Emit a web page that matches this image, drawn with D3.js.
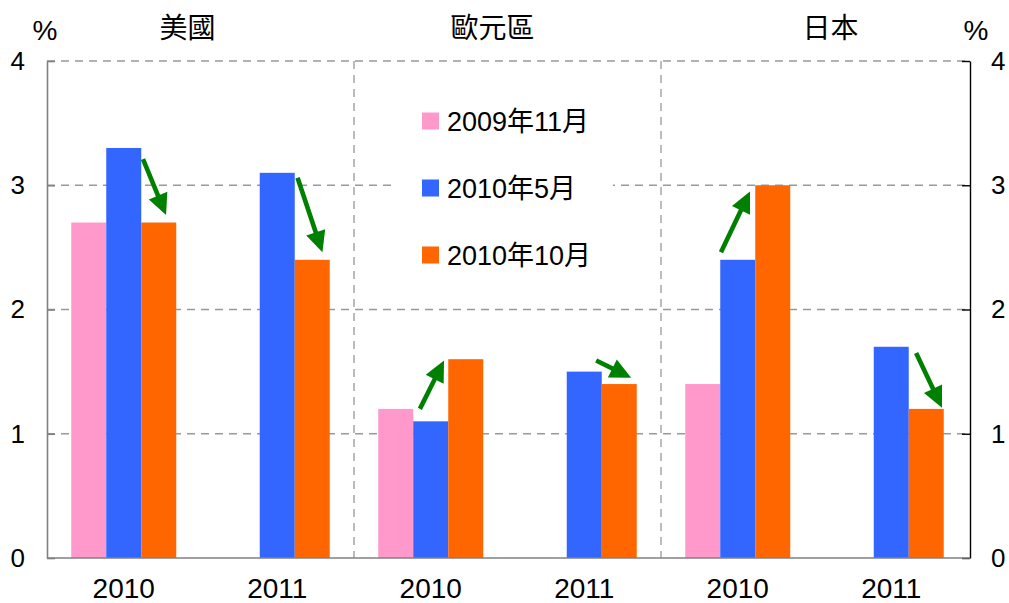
<!doctype html>
<html lang="zh-Hant">
  <head>
    <meta charset="utf-8">
    <title>Growth forecasts</title>
    <script src="https://d3js.org/d3.v7.min.js"></script>
    <style>
      body { margin: 0; background: #fff; }
      text { font-family: "Liberation Sans", Arial, "Noto Sans CJK TC", sans-serif; fill: #000; }
      .cjk { font-family: "Noto Sans CJK TC", sans-serif; }
    </style>
  </head>
  <body>
    <script>

      var regions = ['美國', '歐元區', '日本'];
      var years = ['2010', '2011'];
      var series = ['2009年11月', '2010年5月', '2010年10月'];
      var colors = ['#FF99CC', '#3366FF', '#FF6600'];

      // one value per region/year pair: US 2010, US 2011, EU 2010, EU 2011, JP 2010, JP 2011
      var nov2009 = [2.7, null, 1.2, null, 1.4, null];
      var may2010 = [3.3, 3.1, 1.1, 1.5, 2.4, 1.7];
      var oct2010 = [2.7, 2.4, 1.6, 1.4, 3.0, 1.2];
      var yTicks = [0, 1, 2, 3, 4];

      // arrows: [position in bar widths from the first bar's left edge, value]
      var arrowFrom = [[2.05, 3.21], [2.08, 3.06], [1.19, 1.20], [1.84, 1.59], [1.02, 2.46], [2.21, 1.65]];
      var arrowTo   = [[2.71, 2.76], [2.79, 2.46], [1.88, 1.59], [2.84, 1.45], [1.85, 2.95], [2.95, 1.21]];

      var width = 1009, height = 603;
      var plotLeft = 47, plotRight = 968, plotTop = 61, plotBottom = 558;

      var svg = d3.select('body').append('svg')
          .attr('width', width)
          .attr('height', height);

      var xRegion = d3.scaleBand().domain(regions).range([plotLeft, plotRight]);
      var xYear = d3.scaleBand().domain(years).range([0, xRegion.bandwidth()]);
      var xSeries = d3.scaleBand().domain(series).range([0, xYear.bandwidth()]).paddingInner(0).paddingOuter(0.693);
      var y = d3.scaleLinear().domain([0, 4]).range([plotBottom, plotTop]);

      var values = [nov2009, may2010, oct2010];
      var cells = [];
      regions.forEach(function(r, ri){
        years.forEach(function(yr, yi){
          cells.push({region: r, year: yr, i: ri * 2 + yi});
        });
      });
      function groupX(c){ return xRegion(c.region) + xYear(c.year); }

      // gridlines
      svg.append('g').selectAll('line')
          .data(yTicks.filter(function(d){ return d > 0; }))
        .enter().append('line')
          .attr('x1', plotLeft).attr('x2', plotRight)
          .attr('y1', function(d){ return y(d); }).attr('y2', function(d){ return y(d); })
          .attr('stroke', '#999').attr('stroke-width', 1.3)
          .attr('stroke-dasharray', '8,6');

      // region separators
      svg.append('g').selectAll('line')
          .data(regions.slice(1))
        .enter().append('line')
          .attr('x1', function(d){ return xRegion(d); }).attr('x2', function(d){ return xRegion(d); })
          .attr('y1', plotTop).attr('y2', plotBottom)
          .attr('stroke', '#999').attr('stroke-width', 1.3)
          .attr('stroke-dasharray', '8,6');

      // legend background
      svg.append('rect')
          .attr('x', 397).attr('y', 104).attr('width', 216).attr('height', 172)
          .attr('fill', '#fff');

      // bars
      series.forEach(function(s, si){
        svg.append('g').selectAll('rect')
            .data(cells.filter(function(c){ return values[si][c.i] != null; }))
          .enter().append('rect')
            .attr('x', function(c){ return groupX(c) + xSeries(s); })
            .attr('width', xSeries.bandwidth())
            .attr('y', function(c){ return y(values[si][c.i]); })
            .attr('height', function(c){ return y(0) - y(values[si][c.i]); })
            .attr('fill', colors[si]);
      });

      // arrows
      var green = '#008000', headLen = 21, headHalf = 10;
      var arrows = svg.append('g');
      cells.forEach(function(c, k){
        var x0 = groupX(c) + xSeries(series[0]);
        var bw = xSeries.bandwidth();
        var ax = x0 + arrowFrom[k][0] * bw, ay = y(arrowFrom[k][1]);
        var bx = x0 + arrowTo[k][0] * bw, by = y(arrowTo[k][1]);
        var dx = bx - ax, dy = by - ay, len = Math.sqrt(dx * dx + dy * dy);
        var ux = dx / len, uy = dy / len;
        var hx = bx - ux * headLen, hy = by - uy * headLen;
        arrows.append('line')
            .attr('x1', ax).attr('y1', ay).attr('x2', hx + ux * 2).attr('y2', hy + uy * 2)
            .attr('stroke', green).attr('stroke-width', 4.6);
        arrows.append('path')
            .attr('d', 'M' + bx + ',' + by +
                       'L' + (hx - uy * headHalf) + ',' + (hy + ux * headHalf) +
                       'L' + (hx + uy * headHalf) + ',' + (hy - ux * headHalf) + 'Z')
            .attr('fill', green);
      });

      // axes
      var leftAxis = svg.append('g')
          .attr('transform', 'translate(' + plotLeft + ',0)')
          .call(d3.axisLeft(y).tickValues(yTicks).tickFormat(d3.format('d')).tickSizeInner(-8).tickSizeOuter(0).tickPadding(22));
      leftAxis.select('.domain').attr('stroke', '#808080').attr('stroke-width', 1.6);
      leftAxis.selectAll('.tick line').attr('stroke', '#808080').attr('stroke-width', 1.6);
      leftAxis.selectAll('text').attr('font-size', 26).attr('font-family', null);

      var rightAxis = svg.append('g')
          .attr('transform', 'translate(' + (plotRight + 2) + ',0)')
          .call(d3.axisRight(y).tickValues(yTicks).tickFormat(d3.format('d')).tickSizeInner(-8).tickSizeOuter(0).tickPadding(21));
      rightAxis.select('.domain').attr('stroke', '#000').attr('stroke-width', 1.4);
      rightAxis.selectAll('.tick line').attr('stroke', '#000').attr('stroke-width', 1.4);
      rightAxis.selectAll('text').attr('font-size', 26).attr('font-family', null);

      svg.append('line')
          .attr('x1', plotLeft).attr('x2', plotRight + 2)
          .attr('y1', plotBottom).attr('y2', plotBottom)
          .attr('stroke', '#808080').attr('stroke-width', 1.6);

      // year labels
      svg.append('g').selectAll('text')
          .data(cells)
        .enter().append('text')
          .attr('x', function(c){ return groupX(c) + xYear.bandwidth() / 2; })
          .attr('y', 598)
          .attr('text-anchor', 'middle')
          .attr('font-size', 28)
          .text(function(c){ return c.year; });

      // region headers
      var headerShift = [-13, -15, 16];
      svg.append('g').selectAll('text')
          .data(regions)
        .enter().append('text')
          .attr('class', 'cjk')
          .attr('x', function(d, i){ return xRegion(d) + xRegion.bandwidth() / 2 + headerShift[i]; })
          .attr('y', 38)
          .attr('text-anchor', 'middle')
          .attr('font-size', 28)
          .text(String);

      svg.append('text').attr('x', 45).attr('y', 40).attr('text-anchor', 'middle').attr('font-size', 28).text('%');
      svg.append('text').attr('x', 976).attr('y', 40).attr('text-anchor', 'middle').attr('font-size', 28).text('%');

      // legend
      var legend = svg.append('g').selectAll('g')
          .data(series)
        .enter().append('g')
          .attr('transform', function(d, i){ return 'translate(422,' + (121 + i * 67) + ')'; });
      legend.append('rect')
          .attr('y', -8.5).attr('width', 17).attr('height', 17)
          .attr('fill', function(d, i){ return colors[i]; });
      legend.append('text')
          .attr('x', 25).attr('dy', '0.36em')
          .attr('font-size', 27)
          .text(String);

    </script>
  </body>
</html>
